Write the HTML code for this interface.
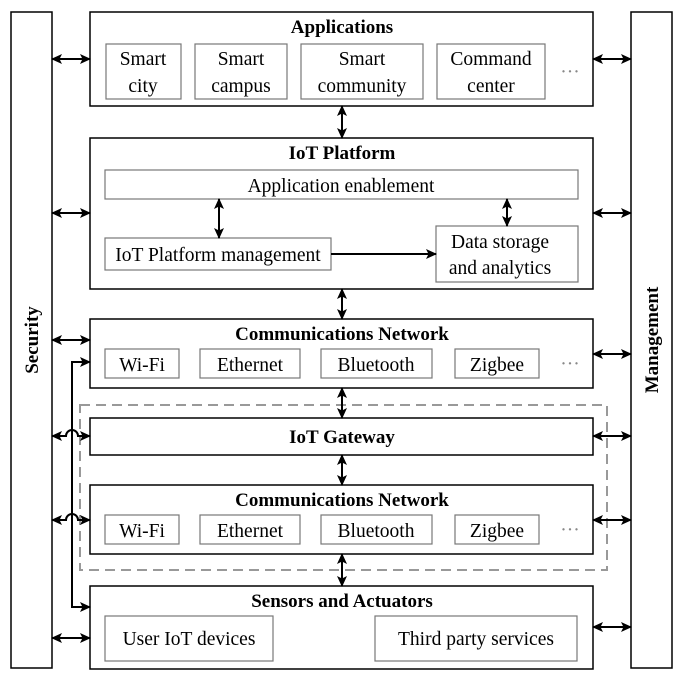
<!DOCTYPE html>
<html><head><meta charset="utf-8"><style>
html,body{margin:0;padding:0;background:#fff;}
svg{display:block;}
text{font-family:"Liberation Serif",serif;fill:#000;}
.t{font-weight:bold;font-size:19px;}
.s{font-size:19.5px;}
</style></head><body>
<svg width="684" height="682" viewBox="0 0 684 682" xmlns="http://www.w3.org/2000/svg">
<defs>
<marker id="a" markerUnits="userSpaceOnUse" markerWidth="12" markerHeight="12" refX="10" refY="6" orient="auto-start-reverse"><path d="M0,1 L11,6 L0,11 L2.5,6 Z" fill="#000"/></marker>
</defs>
<g fill="#fff" stroke="#000" stroke-width="1.5">
<rect x="11" y="12" width="41" height="656"/>
<rect x="631" y="12" width="41" height="656"/>
<rect x="90" y="12" width="503" height="94"/>
<rect x="90" y="138" width="503" height="151"/>
<rect x="90" y="319" width="503" height="69"/>
<rect x="90" y="418" width="503" height="37"/>
<rect x="90" y="485" width="503" height="69"/>
<rect x="90" y="586" width="503" height="83"/>
</g>
<rect x="80" y="405" width="527" height="165" fill="none" stroke="#999" stroke-width="2" stroke-dasharray="10,6"/>
<g fill="none" stroke="#777" stroke-width="1.2">
<rect x="106" y="44" width="75" height="55"/>
<rect x="195" y="44" width="92" height="55"/>
<rect x="301" y="44" width="122" height="55"/>
<rect x="437" y="44" width="108" height="55"/>
<rect x="105" y="170" width="473" height="29"/>
<rect x="105" y="238" width="226" height="32"/>
<rect x="436" y="226" width="142" height="56"/>
<rect x="105" y="349" width="74" height="29"/>
<rect x="200" y="349" width="100" height="29"/>
<rect x="321" y="349" width="111" height="29"/>
<rect x="455" y="349" width="84" height="29"/>
<rect x="105" y="515" width="74" height="29"/>
<rect x="200" y="515" width="100" height="29"/>
<rect x="321" y="515" width="111" height="29"/>
<rect x="455" y="515" width="84" height="29"/>
<rect x="105" y="616" width="168" height="45"/>
<rect x="375" y="616" width="202" height="45"/>
</g>
<g stroke="#000" stroke-width="2" fill="none" marker-start="url(#a)" marker-end="url(#a)">
<line x1="52" y1="59" x2="90" y2="59"/>
<line x1="52" y1="213" x2="90" y2="213"/>
<line x1="52" y1="340" x2="90" y2="340"/>
<path d="M52 436 H66 a6 6 0 0 1 12 0 H90"/>
<path d="M52 520 H66 a6 6 0 0 1 12 0 H90"/>
<line x1="52" y1="638" x2="90" y2="638"/>
<line x1="593" y1="59" x2="631" y2="59"/>
<line x1="593" y1="213" x2="631" y2="213"/>
<line x1="593" y1="354" x2="631" y2="354"/>
<line x1="593" y1="436" x2="631" y2="436"/>
<line x1="593" y1="520" x2="631" y2="520"/>
<line x1="593" y1="627" x2="631" y2="627"/>
<line x1="342" y1="106" x2="342" y2="138"/>
<line x1="342" y1="289" x2="342" y2="319"/>
<line x1="342" y1="388" x2="342" y2="418"/>
<line x1="342" y1="455" x2="342" y2="485"/>
<line x1="342" y1="554" x2="342" y2="586"/>
<line x1="219" y1="199" x2="219" y2="238"/>
<line x1="507" y1="199" x2="507" y2="226"/>
<path d="M90 362 H72 V607 H90"/>
</g>
<line x1="331" y1="254" x2="436" y2="254" stroke="#000" stroke-width="2" marker-end="url(#a)"/>
<g text-anchor="middle">
<text class="t" x="342" y="33">Applications</text>
<text class="t" x="342" y="159">IoT Platform</text>
<text class="t" x="342" y="340">Communications Network</text>
<text class="t" x="342" y="443">IoT Gateway</text>
<text class="t" x="342" y="506">Communications Network</text>
<text class="t" x="342" y="607">Sensors and Actuators</text>
<text class="t" transform="translate(38,340) rotate(-90)">Security</text>
<text class="t" transform="translate(658,340) rotate(-90)">Management</text>
<text class="s" x="143" y="65">Smart</text><text class="s" x="143" y="92">city</text>
<text class="s" x="241" y="65">Smart</text><text class="s" x="241" y="92">campus</text>
<text class="s" x="362" y="65">Smart</text><text class="s" x="362" y="92">community</text>
<text class="s" x="491" y="65">Command</text><text class="s" x="491" y="92">center</text>
<text class="s" x="570" y="78" style="fill:#888">···</text>
<text class="s" x="341" y="192">Application enablement</text>
<text class="s" x="218" y="261">IoT Platform management</text>
<text class="s" x="500" y="248">Data storage</text><text class="s" x="500" y="274">and analytics</text>
<text class="s" x="142" y="371">Wi-Fi</text><text class="s" x="250" y="371">Ethernet</text>
<text class="s" x="376" y="371">Bluetooth</text><text class="s" x="497" y="371">Zigbee</text>
<text class="s" x="570" y="370" style="fill:#888">···</text>
<text class="s" x="142" y="537">Wi-Fi</text><text class="s" x="250" y="537">Ethernet</text>
<text class="s" x="376" y="537">Bluetooth</text><text class="s" x="497" y="537">Zigbee</text>
<text class="s" x="570" y="536" style="fill:#888">···</text>
<text class="s" x="189" y="645">User IoT devices</text>
<text class="s" x="476" y="645">Third party services</text>
</g>
</svg>
</body></html>
